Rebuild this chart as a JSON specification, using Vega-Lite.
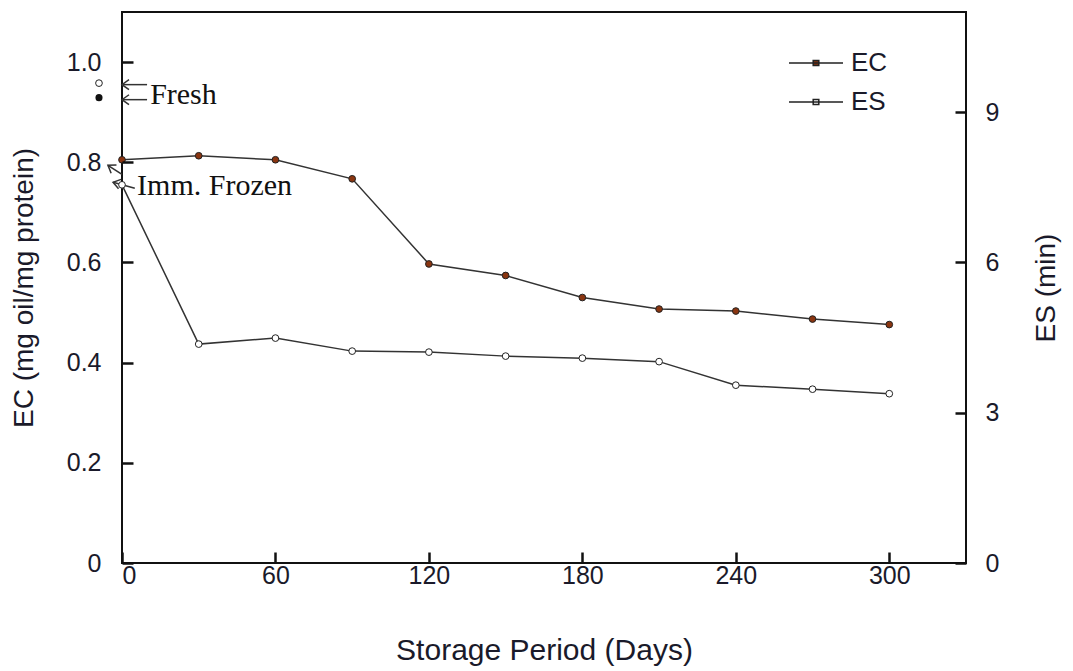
{
  "$schema": "https://vega.github.io/schema/vega-lite/v6.json",
  "width": 844,
  "height": 551,
  "autosize": "none",
  "padding": {"left": 122, "top": 12, "right": 107, "bottom": 108},
  "background": "white",
  "config": {
    "view": {"stroke": "#111", "strokeWidth": 2},
    "axis": {
      "labelFont": "Liberation Sans",
      "titleFont": "Liberation Sans",
      "labelColor": "#1a1a2a",
      "titleColor": "#1a1a2a",
      "labelFontSize": 25,
      "titleFontSize": 28,
      "titleFontWeight": "normal",
      "grid": false
    }
  },
  "datasets": {
    "main": [
      {"day": 0, "EC": 0.805, "ES": 7.55},
      {"day": 30, "EC": 0.813, "ES": 4.37},
      {"day": 60, "EC": 0.805, "ES": 4.49},
      {"day": 90, "EC": 0.767, "ES": 4.23},
      {"day": 120, "EC": 0.597, "ES": 4.21},
      {"day": 150, "EC": 0.574, "ES": 4.13},
      {"day": 180, "EC": 0.53, "ES": 4.09},
      {"day": 210, "EC": 0.507, "ES": 4.02},
      {"day": 240, "EC": 0.503, "ES": 3.55},
      {"day": 270, "EC": 0.487, "ES": 3.47},
      {"day": 300, "EC": 0.476, "ES": 3.38}
    ],
    "fresh": [{"day": -9, "EC": 0.929, "ES": 9.58}],
    "arrows": [
      {"id": "f1", "day": 9.8, "EC": 0.955, "day2": 0, "EC2": 0.955},
      {"id": "f2", "day": 9.8, "EC": 0.925, "day2": 0, "EC2": 0.925},
      {"id": "i1", "day": 0, "EC": 0.776, "day2": -5.5, "EC2": 0.794},
      {"id": "i2", "day": 5, "EC": 0.748, "day2": -3.5, "EC2": 0.76}
    ],
    "notes": [
      {"label": "Fresh", "day": 11, "EC": 0.935},
      {"label": "Imm. Frozen", "day": 5.9, "EC": 0.752}
    ]
  },
  "encoding": {
    "x": {
      "field": "day",
      "type": "quantitative",
      "scale": {"domain": [0, 330], "nice": false, "zero": false},
      "axis": {
        "title": "Storage Period (Days)",
        "titleFontSize": 30,
        "values": [0, 60, 120, 180, 240, 300],
        "domain": false,
        "ticks": true,
        "tickColor": "#111",
        "tickWidth": 2.5,
        "tickSize": 11,
        "offset": -11,
        "zindex": 3,
        "labelPadding": 0,
        "titlePadding": 47
      }
    }
  },
  "layer": [
    {
      "encoding": {
        "y": {
          "field": "EC",
          "type": "quantitative",
          "scale": {"domain": [0, 1.1], "nice": false},
          "axis": {
            "title": "EC (mg oil/mg protein)",
            "orient": "left",
            "values": [0, 0.2, 0.4, 0.6, 0.8, 1.0],
            "labelExpr": "datum.value == 0 ? '0' : format(datum.value, '.1f')",
            "domain": false,
            "ticks": true,
            "tickColor": "#111",
            "tickWidth": 2.5,
            "tickSize": 11,
            "offset": -11,
            "zindex": 3,
            "labelPadding": 21,
            "titlePadding": 28
          }
        }
      },
      "layer": [
        {
          "data": {"name": "main"},
          "mark": {"type": "line", "color": "#333", "strokeWidth": 1.5}
        },
        {
          "data": {"name": "main"},
          "mark": {"type": "point", "shape": "circle", "filled": true, "size": 45, "stroke": "#222", "strokeWidth": 1, "opacity": 1},
          "encoding": {
            "fill": {
              "datum": "EC",
              "type": "nominal",
              "scale": {"domain": ["EC", "ES"], "range": ["#8a3510", "#ffffff"]},
              "legend": {
                "orient": "none",
                "legendX": 673,
                "legendY": 30,
                "title": null,
                "symbolType": "M-1.35,0H1.35M-0.14,-0.12H0.14V0.12H-0.14Z",
                "symbolSize": 1600,
                "symbolStrokeColor": "#333",
                "symbolStrokeWidth": 1.5,
                "symbolOpacity": 1,
                "labelFont": "Liberation Sans",
                "labelFontSize": 26,
                "labelColor": "#1a1a2a",
                "labelOffset": 14,
                "rowPadding": 5
              }
            }
          }
        },
        {
          "data": {"name": "fresh"},
          "mark": {"type": "point", "shape": "circle", "filled": true, "size": 50, "color": "#111", "opacity": 1}
        },
        {
          "data": {"name": "arrows"},
          "mark": {"type": "rule", "color": "#333", "strokeWidth": 1.5},
          "encoding": {
            "x2": {"field": "day2"},
            "y2": {"field": "EC2"}
          }
        },
        {
          "data": {"name": "arrows"},
          "transform": [{"filter": "datum.id == 'f1' || datum.id == 'f2'"}],
          "mark": {"type": "point", "shape": "M1,-0.7L0,0L1,0.7", "filled": false, "size": 196, "stroke": "#333", "strokeWidth": 1.5, "angle": 0, "opacity": 1},
          "encoding": {"x": {"field": "day2", "type": "quantitative"}, "y": {"field": "EC2", "type": "quantitative"}}
        },
        {
          "data": {"name": "arrows"},
          "transform": [{"filter": "datum.id == 'i1'"}],
          "mark": {"type": "point", "shape": "M1,-0.7L0,0L1,0.7", "filled": false, "size": 196, "stroke": "#333", "strokeWidth": 1.5, "angle": 33, "opacity": 1},
          "encoding": {"x": {"field": "day2", "type": "quantitative"}, "y": {"field": "EC2", "type": "quantitative"}}
        },
        {
          "data": {"name": "arrows"},
          "transform": [{"filter": "datum.id == 'i2'"}],
          "mark": {"type": "point", "shape": "M1,-0.7L0,0L1,0.7", "filled": false, "size": 196, "stroke": "#333", "strokeWidth": 1.5, "angle": 15, "opacity": 1},
          "encoding": {"x": {"field": "day2", "type": "quantitative"}, "y": {"field": "EC2", "type": "quantitative"}}
        },
        {
          "data": {"name": "notes"},
          "mark": {"type": "text", "align": "left", "baseline": "middle", "font": "Liberation Serif", "fontSize": 30, "color": "#111"},
          "encoding": {"text": {"field": "label"}}
        }
      ]
    },
    {
      "encoding": {
        "y": {
          "field": "ES",
          "type": "quantitative",
          "scale": {"domain": [0, 11], "nice": false},
          "axis": {
            "title": "ES (min)",
            "orient": "right",
            "values": [0, 3, 6, 9],
            "domain": false,
            "ticks": true,
            "tickColor": "#111",
            "tickWidth": 2.5,
            "tickSize": 11,
            "offset": -11,
            "zindex": 3,
            "labelPadding": 19,
            "titlePadding": 62,
            "titleAngle": 270
          }
        }
      },
      "layer": [
        {
          "data": {"name": "main"},
          "mark": {"type": "line", "color": "#333", "strokeWidth": 1.5}
        },
        {
          "data": {"name": "main"},
          "mark": {"type": "point", "shape": "circle", "filled": true, "size": 45, "stroke": "#222", "strokeWidth": 1, "opacity": 1},
          "encoding": {
            "fill": {"datum": "ES", "type": "nominal"}
          }
        },
        {
          "data": {"name": "fresh"},
          "mark": {"type": "point", "shape": "circle", "filled": true, "size": 45, "fill": "#ffffff", "stroke": "#222", "strokeWidth": 1, "opacity": 1}
        }
      ]
    }
  ],
  "resolve": {"scale": {"y": "independent"}}
}
